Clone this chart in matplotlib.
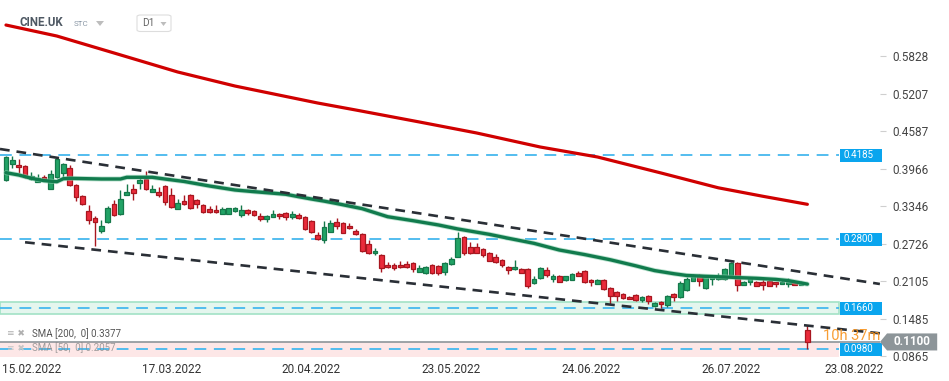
import matplotlib
matplotlib.use('Agg')
import matplotlib.pyplot as plt
from matplotlib.patches import Rectangle, Polygon, FancyBboxPatch
from matplotlib.transforms import blended_transform_factory
import numpy as np

plt.rcParams['font.family'] = ['Roboto', 'DejaVu Sans']
plt.rcParams['lines.scale_dashes'] = False

# ---------------- data ----------------
opens = [0.3779, 0.4044, 0.4027, 0.4011, 0.3796, 0.3746, 0.3829, 0.3630, 0.3829, 0.3895,
         0.3978, 0.3697, 0.3515, 0.3266, 0.3151, 0.2936, 0.3084, 0.3382, 0.3217, 0.3531,
         0.3630, 0.3730, 0.3796, 0.3581, 0.3581, 0.3680, 0.3531, 0.3300, 0.3432, 0.3531,
         0.3448, 0.3366, 0.3300, 0.3283, 0.3217, 0.3217, 0.3266, 0.3200, 0.3283, 0.3266,
         0.3184, 0.3134, 0.3167, 0.3217, 0.3233, 0.3167, 0.3200, 0.3167, 0.3101, 0.2869,
         0.2787, 0.2919, 0.3084, 0.3068, 0.3018, 0.2936, 0.2886, 0.2721, 0.2572, 0.2539,
         0.2373, 0.2373, 0.2373, 0.2390, 0.2406, 0.2257, 0.2241, 0.2373, 0.2357, 0.2257,
         0.2390, 0.2505, 0.2836, 0.2671, 0.2671, 0.2638, 0.2572, 0.2505, 0.2456, 0.2340,
         0.2307, 0.2307, 0.2307, 0.2075, 0.2158, 0.2290, 0.2142, 0.2191, 0.2125, 0.2125,
         0.2241, 0.2274, 0.2125, 0.2059, 0.2125, 0.1993, 0.1926, 0.1893, 0.1844, 0.1877,
         0.1794, 0.1860, 0.1695, 0.1761, 0.1711, 0.1893, 0.1844, 0.1960, 0.2108, 0.2208,
         0.1993, 0.2142, 0.2142, 0.2142, 0.2208, 0.2406, 0.2042, 0.2092, 0.2092, 0.2092,
         0.2108, 0.2092, 0.2059, 0.2059, 0.2075, 0.2042, 0.1298]
highs = [0.4176, 0.4176, 0.4127, 0.4027, 0.3912, 0.3879, 0.3862, 0.3945, 0.4143, 0.4061,
         0.4027, 0.3713, 0.3531, 0.3366, 0.3184, 0.3118, 0.3349, 0.3448, 0.3614, 0.3713,
         0.3713, 0.3829, 0.3928, 0.3697, 0.3663, 0.3697, 0.3647, 0.3465, 0.3531, 0.3548,
         0.3465, 0.3382, 0.3349, 0.3366, 0.3333, 0.3316, 0.3333, 0.3366, 0.3300, 0.3283,
         0.3233, 0.3200, 0.3283, 0.3233, 0.3250, 0.3266, 0.3233, 0.3184, 0.3118, 0.2919,
         0.3101, 0.3118, 0.3151, 0.3084, 0.3068, 0.2969, 0.2902, 0.2787, 0.2654, 0.2555,
         0.2423, 0.2406, 0.2439, 0.2439, 0.2423, 0.2373, 0.2357, 0.2390, 0.2373, 0.2423,
         0.2505, 0.2919, 0.2853, 0.2754, 0.2737, 0.2654, 0.2588, 0.2555, 0.2472, 0.2357,
         0.2456, 0.2323, 0.2323, 0.2191, 0.2340, 0.2340, 0.2224, 0.2208, 0.2191, 0.2241,
         0.2274, 0.2290, 0.2142, 0.2142, 0.2142, 0.2009, 0.1943, 0.1910, 0.1860, 0.1893,
         0.1860, 0.1877, 0.1761, 0.1778, 0.1877, 0.1910, 0.2108, 0.2175, 0.2224, 0.2224,
         0.2208, 0.2208, 0.2241, 0.2323, 0.2423, 0.2423, 0.2108, 0.2175, 0.2108, 0.2142,
         0.2125, 0.2092, 0.2125, 0.2158, 0.2092, 0.2108, 0.1381]
lows = [0.3763, 0.3978, 0.3895, 0.3812, 0.3779, 0.3746, 0.3763, 0.3630, 0.3812, 0.3812,
        0.3680, 0.3432, 0.3366, 0.3051, 0.2687, 0.2902, 0.3068, 0.3184, 0.3200, 0.3531,
        0.3448, 0.3630, 0.3614, 0.3581, 0.3498, 0.3366, 0.3316, 0.3300, 0.3366, 0.3300,
        0.3316, 0.3233, 0.3233, 0.3233, 0.3217, 0.3217, 0.3250, 0.3167, 0.3200, 0.3184,
        0.3101, 0.3084, 0.3167, 0.3134, 0.3118, 0.3134, 0.3134, 0.2952, 0.2902, 0.2787,
        0.2737, 0.2919, 0.2969, 0.2902, 0.2969, 0.2869, 0.2588, 0.2555, 0.2539, 0.2257,
        0.2323, 0.2290, 0.2323, 0.2323, 0.2257, 0.2257, 0.2224, 0.2224, 0.2208, 0.2208,
        0.2373, 0.2505, 0.2539, 0.2555, 0.2572, 0.2505, 0.2439, 0.2406, 0.2340, 0.2224,
        0.2290, 0.2241, 0.1993, 0.2059, 0.2142, 0.2175, 0.2092, 0.2092, 0.2108, 0.2125,
        0.2191, 0.2075, 0.2026, 0.2059, 0.1960, 0.1728, 0.1778, 0.1811, 0.1811, 0.1778,
        0.1761, 0.1728, 0.1678, 0.1662, 0.1678, 0.1778, 0.1827, 0.1943, 0.2108, 0.2026,
        0.1976, 0.2042, 0.2125, 0.2125, 0.2208, 0.1943, 0.2042, 0.2042, 0.2026, 0.1960,
        0.2026, 0.2009, 0.2059, 0.2009, 0.2042, 0.2042, 0.0980]
closes = [0.4160, 0.4110, 0.3994, 0.3829, 0.3845, 0.3812, 0.3779, 0.3879, 0.4127, 0.4044,
          0.3697, 0.3498, 0.3382, 0.3118, 0.3084, 0.3018, 0.3316, 0.3200, 0.3465, 0.3581,
          0.3564, 0.3779, 0.3630, 0.3630, 0.3531, 0.3415, 0.3333, 0.3399, 0.3382, 0.3316,
          0.3382, 0.3250, 0.3250, 0.3250, 0.3300, 0.3316, 0.3316, 0.3283, 0.3233, 0.3200,
          0.3134, 0.3184, 0.3217, 0.3184, 0.3167, 0.3217, 0.3151, 0.2969, 0.2919, 0.2803,
          0.3002, 0.3068, 0.3018, 0.2902, 0.2985, 0.2886, 0.2605, 0.2572, 0.2605, 0.2323,
          0.2340, 0.2323, 0.2340, 0.2340, 0.2307, 0.2323, 0.2340, 0.2241, 0.2241, 0.2406,
          0.2472, 0.2820, 0.2572, 0.2572, 0.2572, 0.2539, 0.2439, 0.2423, 0.2373, 0.2290,
          0.2340, 0.2241, 0.2026, 0.2142, 0.2323, 0.2208, 0.2191, 0.2092, 0.2191, 0.2224,
          0.2191, 0.2092, 0.2092, 0.2125, 0.1976, 0.1860, 0.1860, 0.1827, 0.1811, 0.1794,
          0.1844, 0.1778, 0.1744, 0.1728, 0.1860, 0.1844, 0.2075, 0.2142, 0.2191, 0.2108,
          0.2191, 0.2191, 0.2191, 0.2307, 0.2406, 0.2042, 0.2092, 0.2158, 0.2026, 0.2042,
          0.2026, 0.2059, 0.2092, 0.2092, 0.2042, 0.2092, 0.1100]

sma200_idx = [0, 8, 17, 27, 36, 49, 55, 65, 74, 84, 93, 103, 112, 119, 126]
sma200_val = [0.6343, 0.6161, 0.5880, 0.5566, 0.5334, 0.5053, 0.4937, 0.4739,
              0.4557, 0.4325, 0.4160, 0.3895, 0.3650, 0.3510, 0.3377]

sma50_idx = [0, 2, 4, 6, 8, 9, 10, 15, 18, 19, 23, 25, 28, 32, 36, 39, 41, 44, 46, 48,
             50, 52, 56, 60, 64, 68, 71, 76, 79, 83, 87, 91, 95, 99, 102, 105, 107, 110,
             113, 115, 118, 121, 123, 126]
sma50_val = [0.3900, 0.3862, 0.3807, 0.3768, 0.3751, 0.3800, 0.3807, 0.3796, 0.3796, 0.3824,
             0.3824, 0.3795, 0.3755, 0.3680, 0.3614, 0.3586, 0.3569, 0.3543, 0.3503, 0.3465,
             0.3430, 0.3390, 0.3305, 0.3172, 0.3106, 0.3035, 0.2970, 0.2880, 0.2815, 0.2732,
             0.2621, 0.2545, 0.2460, 0.2360, 0.2280, 0.2229, 0.2200, 0.2186, 0.2175, 0.2165,
             0.2153, 0.2135, 0.2115, 0.2057]

trend_upper_idx = [-0.94, 137.4]
trend_upper_val = [0.4292, 0.2059]
trend_lower_idx = [3.0, 137.4]
trend_lower_val = [0.2749, 0.1243]

level_values = [0.4185, 0.2800, 0.1660, 0.0980]
level_labels = ['0.4185', '0.2800', '0.1660', '0.0980']
green_zone = (0.1562, 0.1766)
red_zone = (0.0851, 0.1100)
last_price = 0.1100
last_label = '0.1100'

date_labels = ['15.02.2022', '17.03.2022', '20.04.2022', '23.05.2022',
               '24.06.2022', '26.07.2022', '23.08.2022']
date_idx = [4, 26, 48, 70, 92, 114, 133.3]
y_ticks = [0.5828, 0.5207, 0.4587, 0.3966, 0.3346, 0.2726, 0.2105, 0.1485, 0.0865]

# ---------------- figure ----------------
W, H = 949, 381
fig = plt.figure(figsize=(W / 100, H / 100), dpi=100)
ax = fig.add_axes([0, 24 / H, 880 / W, 357 / H])
ax.set_xlim(-0.94, 137.42)
ax.set_ylim(0.0851, 0.6757)
for s in ax.spines.values():
    s.set_visible(False)

bt = blended_transform_factory(ax.transAxes, ax.transData)
zone_right = 839 / 880

# zones
ax.add_patch(Rectangle((0, green_zone[0]), zone_right, green_zone[1] - green_zone[0],
                       transform=bt, facecolor='#e4f6ee', edgecolor='#a2e2c6', lw=1.2, zorder=1))
ax.add_patch(Rectangle((0, red_zone[0]), zone_right, red_zone[1] - red_zone[0],
                       transform=bt, facecolor='#fde7e7', edgecolor='none', lw=0, zorder=1))

# horizontal levels
for v in level_values:
    ax.plot([0, zone_right], [v, v], transform=bt, color='#45b8ee', lw=1.3,
            dashes=(8.5, 5.5), zorder=2)

# current price line
ax.plot([0, 1], [last_price, last_price], transform=bt, color='#8d9599', lw=1.2, zorder=2)

# candles
idx = np.arange(len(opens))
o = np.array(opens); c = np.array(closes); hi = np.array(highs); lo = np.array(lows)
up = c >= o
green_f, green_e = '#22a366', '#15784a'
red_f, red_e = '#ea2b3b', '#a8161f'
ax.vlines(idx[up], lo[up], hi[up], color=green_e, lw=1.0, zorder=3)
ax.vlines(idx[~up], lo[~up], hi[~up], color=red_e, lw=1.0, zorder=3)
body_low = np.minimum(o, c)
body_h = np.maximum(np.abs(c - o), 0.0014)
ax.bar(idx[up], body_h[up], bottom=body_low[up], width=0.74, color=green_f,
       edgecolor=green_e, linewidth=0.9, zorder=4)
ax.bar(idx[~up], body_h[~up], bottom=body_low[~up], width=0.74, color=red_f,
       edgecolor=red_e, linewidth=0.9, zorder=4)

# moving averages
ax.plot(sma200_idx, sma200_val, color='#d00000', lw=2.3, solid_capstyle='round', zorder=5)
ax.plot(sma50_idx, sma50_val, color='#8fd0b0', lw=3.6, alpha=0.6, solid_capstyle='round', zorder=5)
ax.plot(sma50_idx, sma50_val, color='#117b4d', lw=2.4, solid_capstyle='round', zorder=5)

# trend channel
ax.plot(trend_upper_idx, trend_upper_val, color='#2a2f36', lw=1.9, dashes=(7, 5), zorder=6)
ax.plot(trend_lower_idx, trend_lower_val, color='#2a2f36', lw=1.9, dashes=(7, 5), zorder=6)

# level label boxes
box_h = 0.0212
for v, lab in zip(level_values, level_labels):
    ax.add_patch(Rectangle((840 / 880, v - box_h / 2), 42 / 880, box_h, transform=bt,
                           facecolor='#0aa5ee', edgecolor='none', clip_on=False, zorder=8))
    ax.text(843.5 / 880, v, lab, transform=bt, color='white', fontsize=7,
            ha='left', va='center', zorder=9, clip_on=False)

# y axis
ax.yaxis.tick_right()
ax.set_yticks(y_ticks)
ax.set_yticklabels([f'{t:.4f}' for t in y_ticks])
ax.tick_params(axis='y', length=4, width=0.8, color='#cfcfcf', pad=5,
               labelsize=8.5, labelcolor='#444444')
# x axis
ax.set_xticks(date_idx)
ax.set_xticklabels(date_labels)
ax.tick_params(axis='x', length=0, pad=4, labelsize=8.5, labelcolor='#333333')

# current price tag
th = 0.0141
tag = Polygon([(1.0, last_price), (1.008, last_price + th), (1.065, last_price + th),
               (1.065, last_price - th), (1.008, last_price - th)], closed=True,
              transform=bt, facecolor='#8d9599', edgecolor='none', clip_on=False, zorder=10)
ax.add_patch(tag)
ax.text(1.036, last_price, last_label, transform=bt, color='white', fontsize=8.5,
        fontweight='bold', ha='center', va='center', zorder=11, clip_on=False)

# countdown
ax.text(823 / 880, 0.1199, '10h 37m', transform=bt, color='#f7931e', fontsize=10.5,
        ha='left', va='center', alpha=0.9, zorder=7)

# indicator legends
ax.text(7 / 880, 0.1232, '≡ ✖', transform=bt, color='#b0b0b0', fontsize=6.5,
        family='DejaVu Sans', ha='left', va='center', zorder=7)
ax.text(32 / 880, 0.1232, 'SMA [200,  0] 0.3377', transform=bt, color='#555555',
        fontsize=7, ha='left', va='center', zorder=7)
ax.text(7 / 880, 0.0999, '≡ ✖', transform=bt, color='#c4c4c4', fontsize=6.5,
        family='DejaVu Sans', ha='left', va='center', zorder=7)
ax.text(32 / 880, 0.0999, 'SMA [50,  0] 0.2057', transform=bt, color='#8a8a8a',
        fontsize=7, ha='left', va='center', alpha=0.8, zorder=7)

# header
fig.text(20 / W, 1 - 23 / H, 'CINE.UK', fontsize=8.3, fontweight='bold', color='#4e5863',
         ha='left', va='center')
fig.text(74 / W, 1 - 24 / H, 'STC', fontsize=5.8, color='#8b98a6', ha='left', va='center')
fig.patches.append(Polygon([(96 / W, 1 - 21 / H), (104 / W, 1 - 21 / H), (100 / W, 1 - 26 / H)],
                           closed=True, transform=fig.transFigure, facecolor='#bdbdbd',
                           edgecolor='none'))
fig.patches.append(FancyBboxPatch((137 / W, 1 - 31.5 / H), 34 / W, 16.5 / H,
                                  boxstyle='round,pad=0,rounding_size=0.004',
                                  transform=fig.transFigure, facecolor='white',
                                  edgecolor='#dddddd', lw=0.8))
fig.text(142 / W, 1 - 23.5 / H, 'D1', fontsize=7.3, color='#666666', ha='left', va='center')
fig.patches.append(Polygon([(160.5 / W, 1 - 22 / H), (166.5 / W, 1 - 22 / H), (163.5 / W, 1 - 26 / H)],
                           closed=True, transform=fig.transFigure, facecolor='#bdbdbd',
                           edgecolor='none'))

fig.savefig('out.png', dpi=100, facecolor='white')
